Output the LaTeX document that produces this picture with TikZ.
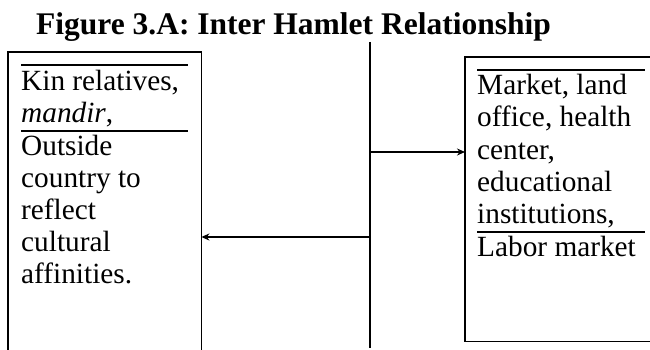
\documentclass[tikz,border=0pt]{standalone}
\usepackage{fontspec}
\setmainfont{Liberation Serif}
\usetikzlibrary{arrows.meta}
\begin{document}
\begin{tikzpicture}[x=1pt,y=-1pt,
  boxarea/.style={anchor=north west,inner sep=0pt},
  frame/.style={line width=1.8pt},
  rule/.style={line width=1.1pt},
  txt/.style={anchor=base west,inner sep=0pt,font=\fontsize{29.3}{32}\selectfont},
  ttl/.style={anchor=base,inner sep=0pt,font=\fontsize{31.5}{34}\selectfont\bfseries},
  link/.style={line width=1.6pt,-{Stealth[length=8pt,width=7pt]}},
  spine/.style={line width=1.8pt}]
\useasboundingbox (0,0) rectangle (650,350);
\fill[white] (0,0) rectangle (650,350);
% title
\node[ttl] (title) at (293.5,35) {Figure 3.A: Inter Hamlet Relationship};
% boxes (they run past the picture's edges)
\node[boxarea,minimum width=193pt,minimum height=298pt] (L) at (8,52) {};
\node[boxarea,minimum width=185pt,minimum height=284pt] (R) at (465,57) {};
\draw[frame] (L.south west) -- (L.north west) -- (L.north east) -- (L.south east);
\draw[frame] (R.north east) -- (R.north west) -- (R.south west) -- (R.south east);
% left text
\draw[rule] (21,65) -- (188,65);
\node[txt] (l1) at (21,91) {Kin relatives,};
\node[txt] (l2) at (21,123) {\textit{mandir},};
\draw[rule] (21,131) -- (188,131);
\node[txt] (l3) at (21,155) {Outside};
\node[txt] (l4) at (21,187) {country to};
\node[txt] (l5) at (21,219) {reflect};
\node[txt] (l6) at (21,251) {cultural};
\node[txt] (l7) at (21,283) {affinities.};
% right text
\draw[rule] (477,70) -- (645,70);
\node[txt] (r1) at (477,95) {Market, land};
\node[txt] (r2) at (477,127) {office, health};
\node[txt] (r3) at (477,159) {center,};
\node[txt] (r4) at (477,191) {educational};
\node[txt] (r5) at (477,223) {institutions,};
\draw[rule] (477,232) -- (645,232);
\node[txt] (r6) at (477,256) {Labor market};
% spine
\coordinate (sTop) at (370,42);
\coordinate (sBot) at (370,348);
\draw[spine] (sTop) -- (sBot);
\coordinate (aR) at (370,152);
\coordinate (aL) at (370,237);
\draw[link] (aR) -- (aR -| R.west);
\draw[link] (aL) -- (aL -| L.east);
\end{tikzpicture}
\end{document}
